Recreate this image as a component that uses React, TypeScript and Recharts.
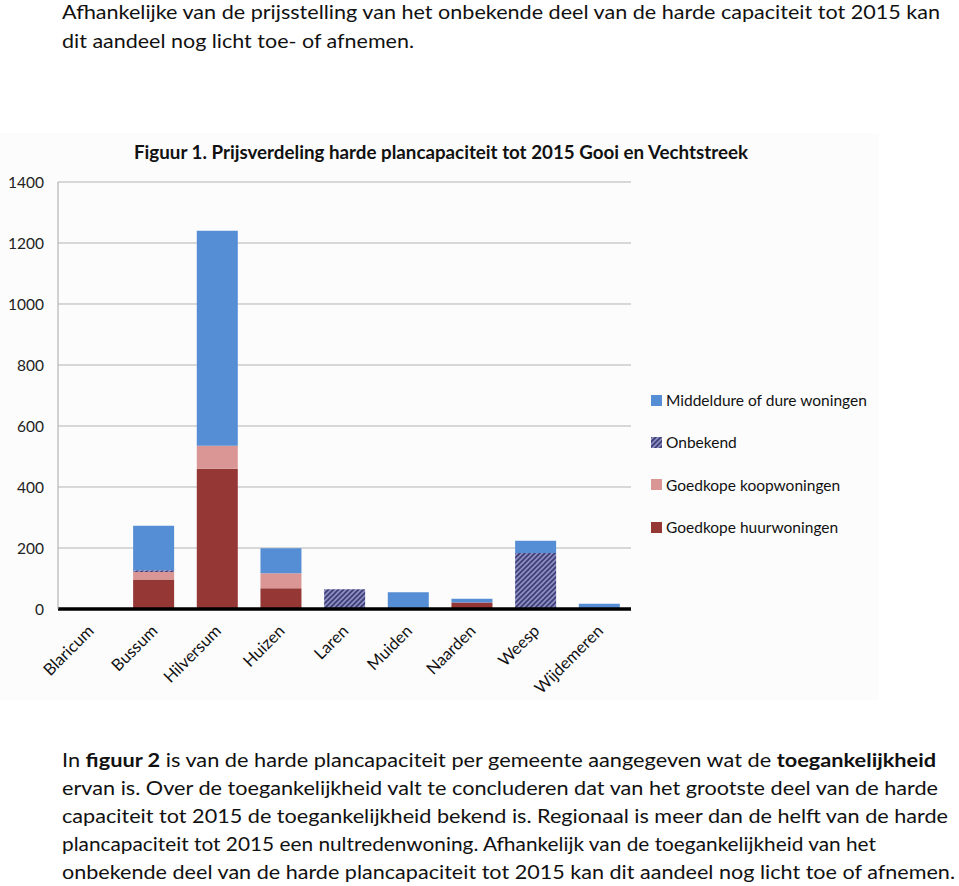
import React from 'react';
import { BarChart, Bar, XAxis, YAxis, CartesianGrid, Legend } from 'recharts';

const categories = ['Blaricum', 'Bussum', 'Hilversum', 'Huizen', 'Laren', 'Muiden', 'Naarden', 'Weesp', 'Wijdemeren'];
const huurwoningen = [0, 97, 460, 68, 0, 0, 21, 0, 0];
const koopwoningen = [0, 24, 75, 49, 0, 0, 0, 0, 0];
const onbekend = [0, 6, 0, 0, 65, 0, 0, 184, 0];
const middelduur = [0, 146, 705, 82, 0, 55, 13, 40, 17];
const yTicks = [0, 200, 400, 600, 800, 1000, 1200, 1400];

const topLines = [
  'Afhankelijke van de prijsstelling van het onbekende deel van de harde capaciteit tot 2015 kan',
  'dit aandeel nog licht toe- of afnemen.',
];

const FONT = 'Lato, "Open Sans", sans-serif';

const data = categories.map((name, i) => ({
  name,
  huur: huurwoningen[i],
  koop: koopwoningen[i],
  onbekend: onbekend[i],
  middel: middelduur[i],
}));

const legendItems = [
  { key: 'middel', label: 'Middeldure of dure woningen', color: '#558ed5' },
  { key: 'onbekend', label: 'Onbekend', color: 'url(#hatchLegend)' },
  { key: 'koop', label: 'Goedkope koopwoningen', color: '#d99694' },
  { key: 'huur', label: 'Goedkope huurwoningen', color: '#953735' },
];

const HatchPattern = ({ id }: { id: string }) => (
  <pattern id={id} patternUnits="userSpaceOnUse" width="5" height="5">
    <rect width="5" height="5" fill="#8d8dc0" />
    <path d="M0,5 L5,0 M-1,1 L1,-1 M4,6 L6,4" stroke="#3d3d78" strokeWidth="1.7" />
  </pattern>
);

const LegendContent = () => (
  <div style={{ fontFamily: FONT }}>
    <svg width="0" height="0" style={{ position: 'absolute' }}>
      <defs>
        <HatchPattern id="hatchLegend" />
      </defs>
    </svg>
    {legendItems.map((item) => (
      <div key={item.key} style={{ height: 42.3, display: 'flex', alignItems: 'center' }}>
        <svg width="11" height="11" style={{ marginRight: 4 }}>
          <rect width="11" height="11" fill={item.color} />
        </svg>
        <span style={{ fontSize: 15.5, color: '#111' }}>{item.label}</span>
      </div>
    ))}
  </div>
);

const XTick = ({ x, y, payload }: any) => {
  const tx = x + 5;
  const ty = y + 23;
  return (
    <text x={tx} y={ty} textAnchor="end" transform={`rotate(-45, ${tx}, ${ty})`} fontSize={16.5} fontFamily={FONT} fill="#111">
      {payload.value}
    </text>
  );
};

export default function App() {
  return (
    <div style={{ position: 'absolute', left: 0, top: 0, width: 959, height: 886, background: '#fff', overflow: 'hidden' }}>
      <svg width={959} height={60} style={{ position: 'absolute', left: 0, top: 0 }}>
        <text x={62} y={19} fontSize={19} fontFamily={FONT} fill="#111" textLength={878} lengthAdjust="spacingAndGlyphs">{topLines[0]}</text>
        <text x={62} y={48} fontSize={19} fontFamily={FONT} fill="#111" textLength={352} lengthAdjust="spacingAndGlyphs">{topLines[1]}</text>
      </svg>

      <div style={{ position: 'absolute', left: 0, top: 133, width: 879, height: 567, background: '#fcfcfc' }}>
        <BarChart width={879} height={567} data={data} barCategoryGap="18%" margin={{ top: 49, right: 20, bottom: 11, left: 8 }}>
          <defs>
            <HatchPattern id="hatch" />
          </defs>
          <text x={441} y={26} textAnchor="middle" fontSize={19} fontWeight="bold" fontFamily={FONT} fill="#111" textLength={614} lengthAdjust="spacingAndGlyphs">
            Figuur 1. Prijsverdeling harde plancapaciteit tot 2015 Gooi en Vechtstreek
          </text>
          <CartesianGrid vertical={false} stroke="#b3b3b3" />
          <XAxis
            dataKey="name"
            interval={0}
            height={80}
            tick={<XTick />}
            tickLine={false}
            tickSize={0}
            tickMargin={0}
            axisLine={{ stroke: '#000', strokeWidth: 3.5 }}
          />
          <YAxis
            domain={[0, 1400]}
            ticks={yTicks}
            width={50}
            tickLine={false}
            tickSize={0}
            tickMargin={14}
            axisLine={{ stroke: '#a6a6a6' }}
            tick={{ fontSize: 15.5, fontFamily: FONT, fill: '#222' }}
          />
          <Legend
            layout="vertical"
            align="right"
            verticalAlign="top"
            content={<LegendContent />}
            wrapperStyle={{ left: 651, top: 246, width: 228 }}
          />
          <Bar dataKey="huur" stackId="a" fill="#953735" isAnimationActive={false} />
          <Bar dataKey="koop" stackId="a" fill="#d99694" isAnimationActive={false} />
          <Bar dataKey="onbekend" stackId="a" fill="url(#hatch)" isAnimationActive={false} />
          <Bar dataKey="middel" stackId="a" fill="#558ed5" isAnimationActive={false} />
        </BarChart>
      </div>

      <svg width={959} height={156} style={{ position: 'absolute', left: 0, top: 730 }}>
        <g fontSize={18.5} fontFamily={FONT} fill="#111">
          <text x={62} y={36.5} textLength={874} lengthAdjust="spacingAndGlyphs">
            In <tspan fontWeight="bold">figuur 2</tspan> is van de harde plancapaciteit per gemeente aangegeven wat de <tspan fontWeight="bold">toegankelijkheid</tspan>
          </text>
          <text x={62} y={65} textLength={876} lengthAdjust="spacingAndGlyphs">
            ervan is. Over de toegankelijkheid valt te concluderen dat van het grootste deel van de harde
          </text>
          <text x={62} y={92.5} textLength={886} lengthAdjust="spacingAndGlyphs">
            capaciteit tot 2015 de toegankelijkheid bekend is. Regionaal is meer dan de helft van de harde
          </text>
          <text x={62} y={121} textLength={814} lengthAdjust="spacingAndGlyphs">
            plancapaciteit tot 2015 een nultredenwoning. Afhankelijk van de toegankelijkheid van het
          </text>
          <text x={62} y={148.5} textLength={893} lengthAdjust="spacingAndGlyphs">
            onbekende deel van de harde plancapaciteit tot 2015 kan dit aandeel nog licht toe of afnemen.
          </text>
        </g>
      </svg>
    </div>
  );
}
